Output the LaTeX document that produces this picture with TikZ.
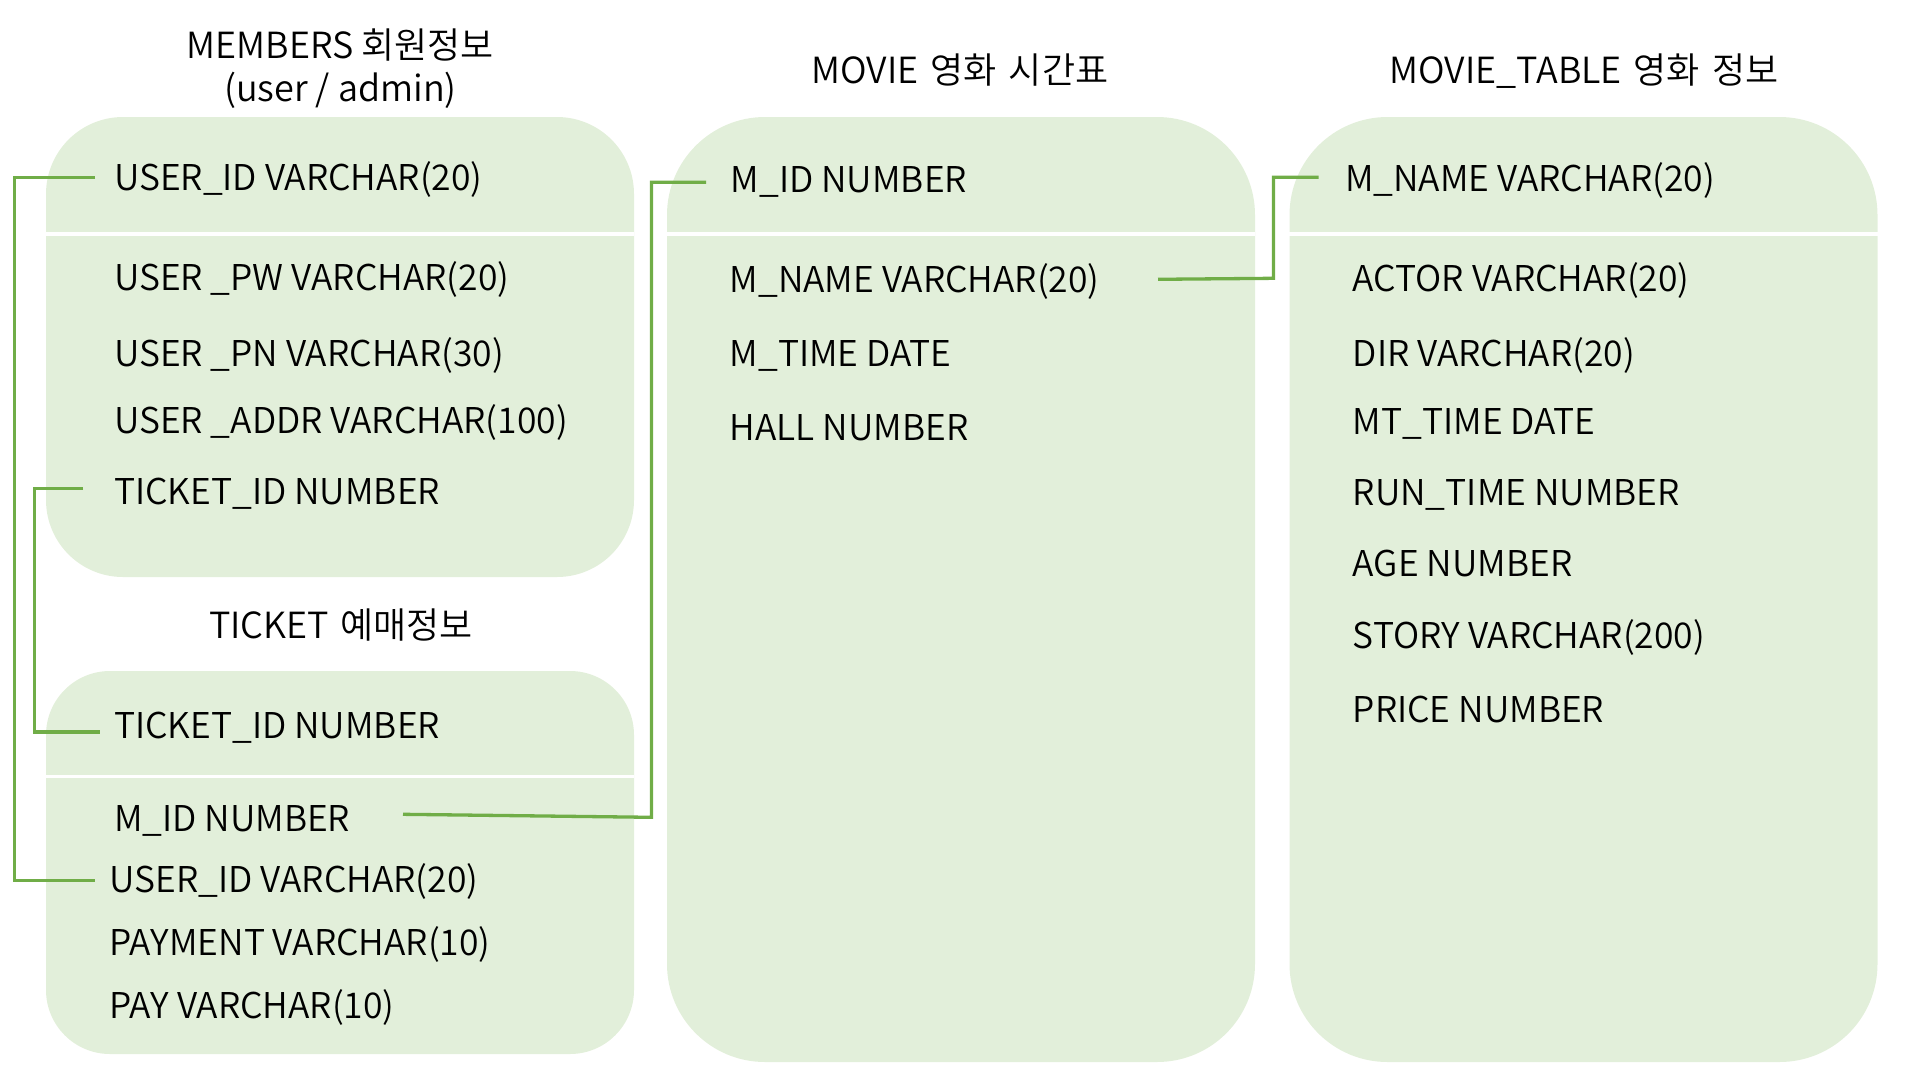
\documentclass[tikz,border=0pt]{standalone}
\usepackage{fontspec}
\setmainfont{Noto Sans CJK KR}[UprightFont={* DemiLight}]
\definecolor{boxfill}{HTML}{E2EFDA}
\definecolor{linkgreen}{HTML}{70AD47}
\begin{document}
\begin{tikzpicture}[x=1pt,y=-1pt,
  tbl/.style={fill=boxfill, draw=none, inner sep=0pt, minimum width=588pt},
  field/.style={anchor=base west, inner sep=0pt, font=\fontsize{35.5}{43}\selectfont},
  ttl/.style={anchor=base, inner sep=0pt, font=\fontsize{36}{43}\selectfont},
  divider/.style={draw=white, line width=3.5pt},
  link/.style={draw=linkgreen, line width=3.3pt}]
\useasboundingbox (0,0) rectangle (1920,1080);

% tables
\node[tbl, minimum height=460pt, rounded corners=77pt] (members) at (340,347) {};
\node[tbl, minimum height=383pt, rounded corners=64pt] (ticket) at (340,862.5) {};
\node[tbl, minimum height=945pt, rounded corners=98pt] (movie) at (961,589.5) {};
\node[tbl, minimum height=945pt, rounded corners=98pt] (mtable) at (1583.5,589.5) {};

% dividers
\draw[divider] (members.west |- 0,234) -- (members.east |- 0,234);
\draw[divider] (movie.west |- 0,234) -- (movie.east |- 0,234);
\draw[divider] (mtable.west |- 0,234) -- (mtable.east |- 0,234);
\draw[divider] (ticket.west |- 0,776.5) -- (ticket.east |- 0,776.5);

% titles
\node[ttl] (t-mem1) at (340.5,58.2) {MEMBERS 회원정보};
\node[ttl] (t-mem2) at (340.5,101.4) {(user / admin)};
\node[ttl] (t-movie) at (960,83.3) {MOVIE\hspace{4pt} 영화\hspace{4pt} 시간표};
\node[ttl] (t-mtable) at (1584,83.3) {MOVIE\_TABLE\hspace{4pt} 영화\hspace{4pt} 정보};
\node[ttl] (t-ticket) at (341,638.3) {TICKET\hspace{3pt} 예매정보};

% MEMBERS fields
\node[field] (m-uid) at (113.8,190.2) {USER\_ID VARCHAR(20)};
\node[field] (m-pw) at (113.8,290.9) {USER \_PW VARCHAR(20)};
\node[field] (m-pn) at (113.8,366.6) {USER \_PN VARCHAR(30)};
\node[field] (m-addr) at (113.8,433.6) {USER \_ADDR VARCHAR(100)};
\node[field] (m-tid) at (113.8,504.4) {TICKET\_ID NUMBER};

% TICKET fields
\node[field] (t-tid) at (113.8,738.3) {TICKET\_ID NUMBER};
\node[field] (t-mid) at (113.8,831.7) {M\_ID NUMBER};
\node[field] (t-uid) at (109.4,892.3) {USER\_ID VARCHAR(20)};
\node[field] (t-pay1) at (109.4,955) {PAYMENT VARCHAR(10)};
\node[field] (t-pay2) at (109.4,1018.3) {PAY VARCHAR(10)};

% MOVIE fields
\node[field] (mv-mid) at (730.6,192.3) {M\_ID NUMBER};
\node[field] (mv-name) at (729.5,292.3) {M\_NAME VARCHAR(20)};
\node[field] (mv-time) at (729.5,366.7) {M\_TIME DATE};
\node[field] (mv-hall) at (729.5,440.7) {HALL NUMBER};

% MOVIE_TABLE fields
\node[field] (mt-name) at (1344.9,191.7) {M\_NAME VARCHAR(20)};
\node[field] (mt-actor) at (1352.6,291.7) {ACTOR VARCHAR(20)};
\node[field] (mt-dir) at (1352.6,366.7) {DIR VARCHAR(20)};
\node[field] (mt-time) at (1352.6,434) {MT\_TIME DATE};
\node[field] (mt-run) at (1352.6,505) {RUN\_TIME NUMBER};
\node[field] (mt-age) at (1352.6,576) {AGE NUMBER};
\node[field] (mt-story) at (1352.6,648) {STORY VARCHAR(200)};
\node[field] (mt-price) at (1352.6,722) {PRICE NUMBER};

% connector end points
\coordinate (c1s) at (95,177.5);
\coordinate (c1e) at (95,880.5);
\coordinate (c2s) at (83,488.7);
\coordinate (c2e) at (99.6,732);
\coordinate (c3s) at (403,814.3);
\coordinate (c3b) at (651.5,817.3);
\coordinate (c3e) at (706,182.3);
\coordinate (c4s) at (1158,279.3);
\coordinate (c4b) at (1273.5,278.3);
\coordinate (c4e) at (1318.5,177.3);

% connectors
\draw[link] (c1s) -- ++(-80.3,0) |- (c1e);
\draw[link] (c2s) -- ++(-48.6,0) |- (c2e);
\draw[link] (c3s) -- (c3b) |- (c3e);
\draw[link] (c4s) -- (c4b) |- (c4e);
\end{tikzpicture}
\end{document}
